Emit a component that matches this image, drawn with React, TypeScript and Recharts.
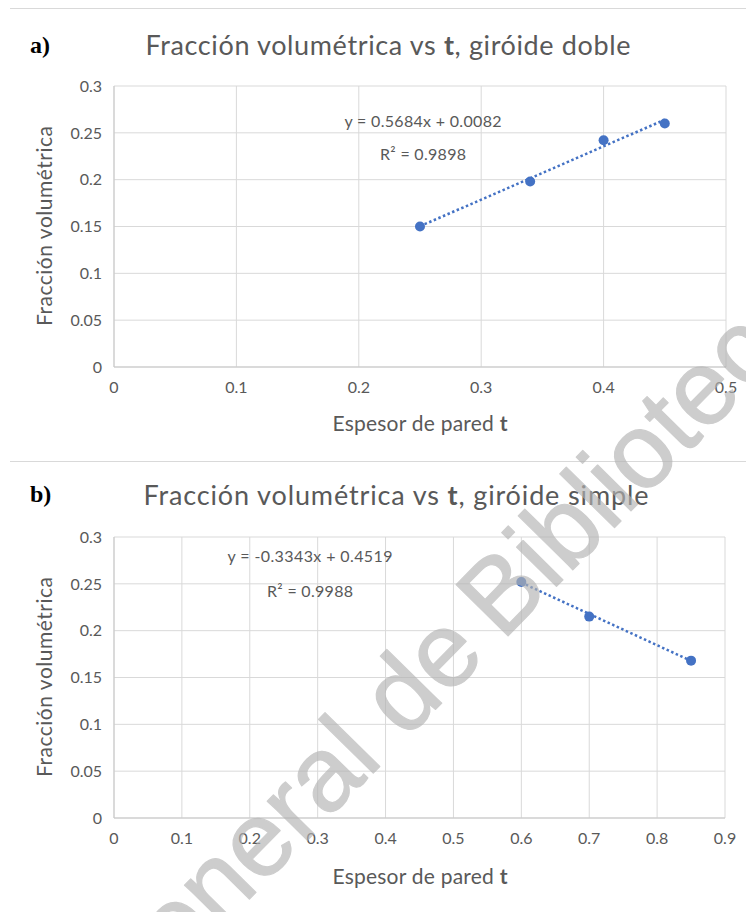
import React from 'react'
import {
  ScatterChart,
  Scatter,
  XAxis,
  YAxis,
  CartesianGrid,
  ReferenceLine,
} from 'recharts'

// panel a) double gyroid
const tDoble = [0.25, 0.34, 0.4, 0.45]
const fvDoble = [0.15, 0.198, 0.242, 0.26]
const fitDoble = [0.5684, 0.0082]
const r2Doble = '0.9898'
const xTicksDoble = [0, 0.1, 0.2, 0.3, 0.4, 0.5]

// panel b) simple gyroid
const tSimple = [0.6, 0.7, 0.85]
const fvSimple = [0.252, 0.215, 0.168]
const fitSimple = [-0.3343, 0.4519]
const r2Simple = '0.9988'
const xTicksSimple = [0, 0.1, 0.2, 0.3, 0.4, 0.5, 0.6, 0.7, 0.8, 0.9]

const yTicks = [0, 0.05, 0.1, 0.15, 0.2, 0.25, 0.3]

const BLUE = '#4472C4'
const GRAY = '#595959'
const FONT = "Lato, 'Open Sans', sans-serif"

const dot = (p: any) => <circle cx={p.cx} cy={p.cy} r={5} fill={BLUE} />

function Panel({
  xs,
  ys,
  fit,
  xTicks,
  margin,
  height,
}: {
  xs: number[]
  ys: number[]
  fit: number[]
  xTicks: number[]
  margin: { top: number; right: number; bottom: number; left: number }
  height: number
}) {
  const data = xs.map((t, i) => ({ t, fv: ys[i] }))
  const x0 = xs[0]
  const x1 = xs[xs.length - 1]
  const xMax = xTicks[xTicks.length - 1]
  return (
    <ScatterChart width={746} height={height} margin={margin}>
      <CartesianGrid stroke="#d9d9d9" strokeWidth={1} />
      <XAxis
        type="number"
        dataKey="t"
        domain={[0, xMax]}
        ticks={xTicks}
        height={30}
        tickLine={false}
        tickSize={0}
        tickMargin={15}
        axisLine={{ stroke: '#c8c8c8' }}
        tick={{ fill: GRAY, fontSize: 16, fontFamily: FONT }}
        interval={0}
      />
      <YAxis
        type="number"
        dataKey="fv"
        domain={[0, 0.3]}
        ticks={yTicks}
        width={60}
        tickLine={false}
        tickSize={0}
        tickMargin={12}
        axisLine={{ stroke: '#c8c8c8' }}
        tick={{ fill: GRAY, fontSize: 16, fontFamily: FONT }}
        interval={0}
      />
      <ReferenceLine
        segment={[
          { x: x0, y: fit[0] * x0 + fit[1] },
          { x: x1, y: fit[0] * x1 + fit[1] },
        ]}
        stroke={BLUE}
        strokeWidth={2.5}
        strokeDasharray="2.5 2.5"
      />
      <Scatter data={data} shape={dot} isAnimationActive={false} />
    </ScatterChart>
  )
}

export default function App() {
  const txt = { fontFamily: FONT, fill: GRAY }
  return (
    <div
      style={{
        position: 'absolute',
        left: 0,
        top: 0,
        width: 746,
        height: 912,
        background: '#fff',
        overflow: 'hidden',
      }}
    >
      <div style={{ position: 'absolute', left: 0, top: 0 }}>
        <Panel
          xs={tDoble}
          ys={fvDoble}
          fit={fitDoble}
          xTicks={xTicksDoble}
          height={455}
          margin={{ top: 86, right: 20, bottom: 58, left: 54 }}
        />
      </div>
      <div style={{ position: 'absolute', left: 0, top: 455 }}>
        <Panel
          xs={tSimple}
          ys={fvSimple}
          fit={fitSimple}
          xTicks={xTicksSimple}
          height={457}
          margin={{ top: 82, right: 21, bottom: 64, left: 54 }}
        />
      </div>
      <svg
        width={746}
        height={912}
        style={{ position: 'absolute', left: 0, top: 0, pointerEvents: 'none' }}
      >
        <line x1={10} y1={8.5} x2={746} y2={8.5} stroke="#d9d9d9" />
        <line x1={10} y1={461.5} x2={746} y2={461.5} stroke="#d9d9d9" />

        {/* panel a */}
        <text x={30} y={53} fontFamily="'Liberation Serif', serif" fontWeight="bold" fontSize={24} fill="#000">
          a)
        </text>
        <text x={388} y={55} textAnchor="middle" fontSize={27} textLength={485} {...txt}>
          Fracción volumétrica vs <tspan fontWeight="bold">t</tspan>, giróide doble
        </text>
        <text x={423} y={127} textAnchor="middle" fontSize={16} textLength={157} {...txt}>
          y = 0.5684x + 0.0082
        </text>
        <text x={423} y={160} textAnchor="middle" fontSize={16} textLength={86} {...txt}>
          R² = {r2Doble}
        </text>
        <text x={420} y={431} textAnchor="middle" fontSize={21} textLength={175} {...txt}>
          Espesor de pared <tspan fontWeight="bold">t</tspan>
        </text>
        <text
          transform="translate(52 226) rotate(-90)"
          textAnchor="middle"
          fontSize={21}
          textLength={200}
          {...txt}
        >
          Fracción volumétrica
        </text>

        {/* panel b */}
        <text x={30} y={502} fontFamily="'Liberation Serif', serif" fontWeight="bold" fontSize={24} fill="#000">
          b)
        </text>
        <text x={396} y={505} textAnchor="middle" fontSize={27} textLength={505} {...txt}>
          Fracción volumétrica vs <tspan fontWeight="bold">t</tspan>, giróide simple
        </text>
        <text x={310} y={562} textAnchor="middle" fontSize={16} textLength={165} {...txt}>
          y = -0.3343x + 0.4519
        </text>
        <text x={310} y={597} textAnchor="middle" fontSize={16} textLength={86} {...txt}>
          R² = {r2Simple}
        </text>
        <text x={420} y={884} textAnchor="middle" fontSize={21} textLength={175} {...txt}>
          Espesor de pared <tspan fontWeight="bold">t</tspan>
        </text>
        <text
          transform="translate(52 677) rotate(-90)"
          textAnchor="middle"
          fontSize={21}
          textLength={200}
          {...txt}
        >
          Fracción volumétrica
        </text>

        {/* watermark */}
        <g transform="translate(502 642) rotate(-45.5)" fill="#b3b3b3" stroke="#b3b3b3"
          strokeWidth={1.2} strokeLinejoin="round" opacity={0.65}
          fontFamily="'Liberation Sans', Arial, sans-serif" fontSize={106}>
          <text x={-20} y={0} textAnchor="end">Dirección General de</text>
          <text x={0} y={0} textAnchor="start">Bibliotecas</text>
        </g>
      </svg>
    </div>
  )
}
